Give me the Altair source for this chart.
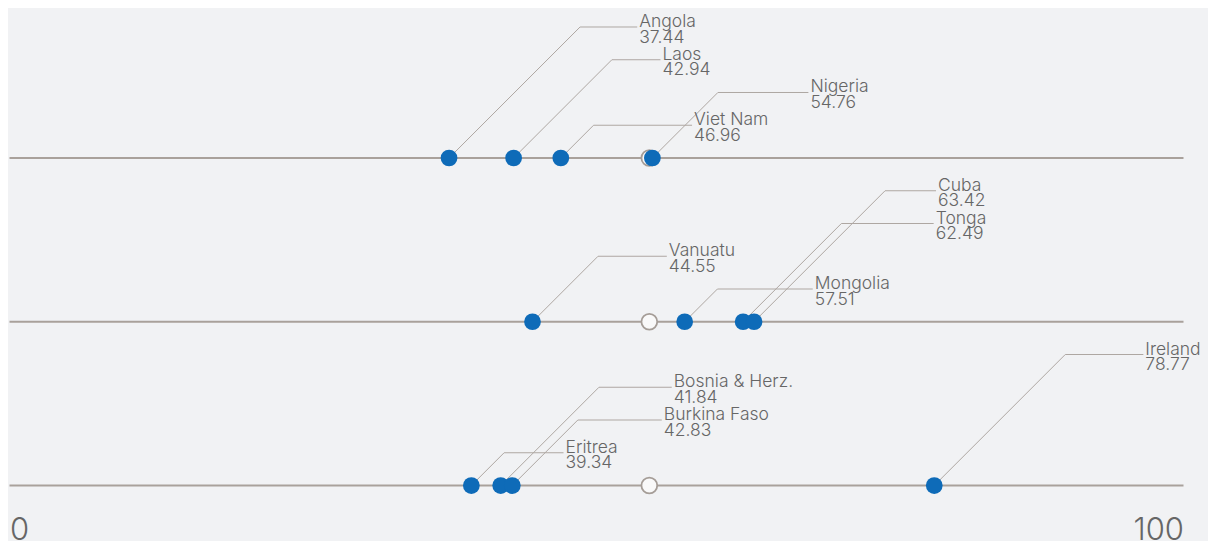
import altair as alt
import pandas as pd

# ---- data ----
row1_names = ["Angola", "Laos", "Viet Nam", "Nigeria"]
row1_values = [37.44, 42.94, 46.96, 54.76]
row2_names = ["Vanuatu", "Mongolia", "Tonga", "Cuba"]
row2_values = [44.55, 57.51, 62.49, 63.42]
row3_names = ["Eritrea", "Bosnia & Herz.", "Burkina Faso", "Ireland"]
row3_values = [39.34, 41.84, 42.83, 78.77]
reference_value = 54.5
axis_ticks = [0, 100]

# ---- annotation layout (label stacking level, label anchor on x) ----
row1_levels = [4, 3, 1, 2]
row2_levels = [2, 1, 3, 4]
row3_levels = [1, 3, 2, 4]
row1_label_x = [53.64, 55.62, 58.31, 68.22]
row2_label_x = [56.16, 68.59, 78.89, 79.09]
row3_label_x = [47.36, 56.58, 55.73, 96.75]

PLOT_W = 1174
PLOT_H = 497
Y_MIN, Y_MAX = -0.595, 14.58
PX_PER_X = PLOT_W / 100.0
PX_PER_Y = PLOT_H / (Y_MAX - Y_MIN)
ROW_GAP = 5

FONT = "Inter"
TEXT_COLOR = "#666666"
LINE_COLOR = "#a9a19b"
LEADER_COLOR = "#aea7a2"
DOT_COLOR = "#0e6bb8"

rows = []
for r, (names, vals, levels, lx) in enumerate([
    (row1_names, row1_values, row1_levels, row1_label_x),
    (row2_names, row2_values, row2_levels, row2_label_x),
    (row3_names, row3_values, row3_levels, row3_label_x),
]):
    base = (2 - r) * ROW_GAP
    for n, v, lv, x in zip(names, vals, levels, lx):
        rows.append({
            "country": n,
            "value": v,
            "label": f"{v:.2f}",
            "base": base,
            "ly": base + lv,
            "elbow": v + lv * PX_PER_Y / PX_PER_X,
            "lx": x,
            "lend": x - 2.0 / PX_PER_X,
        })
df = pd.DataFrame(rows)

base_df = pd.DataFrame({"base": [10, 5, 0], "x0": [0, 0, 0], "x1": [100, 100, 100],
                        "ref": [reference_value] * 3})

xscale = alt.Scale(domain=[0, 100], nice=False, zero=False)
yscale = alt.Scale(domain=[Y_MIN, Y_MAX], nice=False, zero=False)

x_axis = alt.Axis(values=axis_ticks, labelFlush=True, domain=False, ticks=False, grid=False,
                  labelFontSize=31, labelColor=TEXT_COLOR, labelFont=FONT, labelPadding=10,
                  title=None, labelFontWeight=300)

baselines = alt.Chart(base_df).mark_rule(color=LINE_COLOR, strokeWidth=2).encode(
    x=alt.X("x0:Q", scale=xscale, axis=x_axis),
    x2="x1:Q",
    y=alt.Y("base:Q", scale=yscale, axis=None),
)

diag = alt.Chart(df).mark_rule(color=LEADER_COLOR, strokeWidth=1).encode(
    x=alt.X("value:Q", scale=xscale),
    x2="elbow:Q",
    y=alt.Y("base:Q", scale=yscale),
    y2="ly:Q",
)

horiz = alt.Chart(df).mark_rule(color=LEADER_COLOR, strokeWidth=1).encode(
    x=alt.X("elbow:Q", scale=xscale),
    x2="lend:Q",
    y=alt.Y("ly:Q", scale=yscale),
)

refs = alt.Chart(base_df).mark_point(shape="circle", filled=True, fill="#f9f9f9",
                                     stroke="#a59d97", strokeWidth=1.8, size=250,
                                     opacity=1).encode(
    x=alt.X("ref:Q", scale=xscale),
    y=alt.Y("base:Q", scale=yscale),
)

dots = alt.Chart(df).mark_circle(color=DOT_COLOR, size=280, opacity=1).encode(
    x=alt.X("value:Q", scale=xscale),
    y=alt.Y("base:Q", scale=yscale),
)

names = alt.Chart(df).mark_text(align="left", baseline="alphabetic", font=FONT,
                                fontSize=17.5, fontWeight=300, color=TEXT_COLOR).encode(
    x=alt.X("lx:Q", scale=xscale),
    y=alt.Y("ly:Q", scale=yscale),
    text="country:N",
)

values = alt.Chart(df).mark_text(align="left", baseline="alphabetic", font=FONT,
                                 fontSize=17.5, fontWeight=300, color=TEXT_COLOR, dy=15.6).encode(
    x=alt.X("lx:Q", scale=xscale),
    y=alt.Y("ly:Q", scale=yscale),
    text="label:N",
)

chart = alt.layer(baselines, diag, horiz, refs, dots, names, values).properties(
    width=PLOT_W,
    height=PLOT_H,
    autosize=alt.AutoSizeParams(type="none"),
    padding={"left": 1.5, "top": 0, "right": 24, "bottom": 36},
    background="#f1f2f4",
).configure_view(stroke=None)

chart.save("out.html", embed_options={"renderer": "svg", "actions": False})
